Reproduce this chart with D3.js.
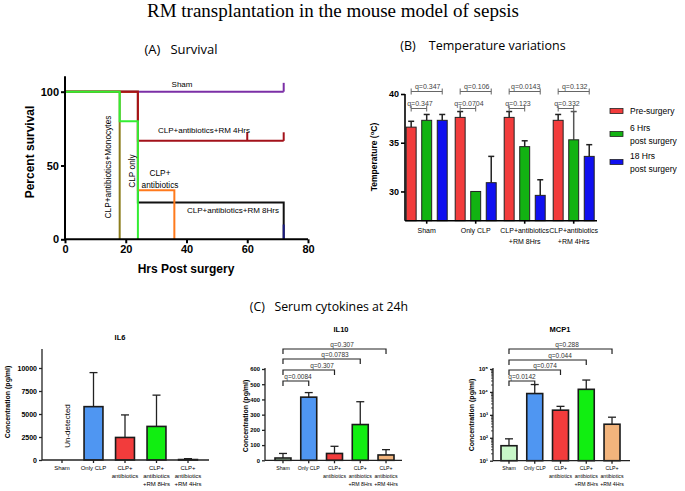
<!DOCTYPE html>
<html>
<head>
<meta charset="utf-8">
<script src="https://cdn.jsdelivr.net/npm/d3@7"></script>
<style>
  body { margin: 0; background: #fff; }
  text { font-family: "Liberation Sans", Arial, sans-serif; }
</style>
</head>
<body>
<svg id="fig" width="685" height="491"></svg>
<script>
// ---- survival (A) ----
const survNames = ["Sham", "CLP+antibiotics+RM 8Hrs", "CLP+antibiotics", "CLP+antibiotics+RM 4Hrs", "CLP+antibiotics+Monocytes", "CLP only"]
const survColors = ["#7b2fa6", "#111111", "#ff7a1c", "#a3121a", "#8c7d1c", "#33ee33"]
const survTimes = [[0, 72], [0, 24, 72, 72], [0, 24, 36, 36], [0, 24, 72], [0, 18, 18], [0, 18, 24, 24]]
const survPct = [[100, 100], [100, 25, 0, 0], [100, 33.3, 0, 0], [100, 66.7, 66.7], [100, 0, 0], [100, 80, 0, 0]]
const censorSham = [72]
const censorRM4 = [60, 72]

// ---- temperature (B) ----
const tempGroups = ["Sham", "Only CLP", "CLP+antibiotics|+RM 8Hrs", "CLP+antibiotics|+RM 4Hrs"]
const tempSeries = ["Pre-surgery", "6 Hrs|post surgery", "18 Hrs|post surgery"]
const tempColors = ["#f23c3c", "#12b312", "#1010f0"]
const tempMean = [[36.6, 37.3, 37.3], [37.6, 30.0, 30.9], [37.6, 34.6, 29.6], [37.3, 35.3, 33.6]]
const tempErr = [[37.2, 37.9, 37.9], [38.2, 30.0, 33.6], [38.2, 35.2, 31.2], [37.9, 38.2, 34.8]]
const tempQ = [["q=0.347", "q=0.347"], ["q=0.106", "q=0.0704"], ["q=0.0143", "q=0.123"], ["q=0.132", "q=0.332"]]

// ---- cytokines (C) ----
const cytoGroups = ["Sham", "Only CLP", "CLP+|antibiotics", "CLP+|antibiotics|+RM 8Hrs", "CLP+|antibiotics|+RM 4Hrs"]
const cytoColors = ["#c8f7c8", "#4f96f2", "#f23c3c", "#11ee11", "#f2b47c"]
const il6Mean = [null, 5800, 2450, 3650, 50]
const il6Err = [null, 9500, 4900, 7050, 150]
const il10Mean = [15, 415, 45, 235, 35]
const il10Err = [45, 445, 92, 385, 70]
const il10Q = ["q=0.0084", "q=0.307", "q=0.0783", "q=0.307"]
const mcp1Mean = [45, 8500, 1600, 13000, 390]
const mcp1Err = [90, 21000, 2350, 33000, 790]
const mcp1Q = ["q=0.0142", "q=0.074", "q=0.044", "q=0.288"]

const svg = d3.select("#fig")

svg.append("text").attr("x", 333).attr("y", 16.5).attr("text-anchor", "middle")
    .style("font-family", "'Liberation Serif', serif").style("font-size", "19px")
    .text("RM transplantation in the mouse model of sepsis")

function panelTitle(x, y, txt, size) {
    svg.append("text").attr("x", x).attr("y", y).attr("text-anchor", "middle")
        .style("font-family", "'Open Sans', sans-serif").style("font-size", (size || 13) + "px")
        .attr("xml:space", "preserve").text(txt)
}
panelTitle(181, 54, "(A)   Survival")
panelTitle(483, 50, "(B)    Temperature variations", 12.5)
panelTitle(329, 311, "(C)   Serum cytokines at 24h", 12.3)

function multiText(g, x, y, txt, size, lh, anchor) {
    let t = g.append("text").attr("x", x).attr("y", y).attr("text-anchor", anchor || "middle")
        .style("font-size", size + "px")
    txt.split("|").forEach(function (s, i) {
        t.append("tspan").attr("x", x).attr("dy", i == 0 ? 0 : lh).text(s)
    })
    return t
}

// ================= A: survival =================
function drawSurvival() {
    let g = svg.append("g")
    let x = d3.scaleLinear().domain([0, 80]).range([65, 308])
    let y = d3.scaleLinear().domain([0, 100]).range([239.3, 91.7])

    let line = d3.line().x(d => x(d[0])).y(d => y(d[1])).curve(d3.curveStepAfter)
    survNames.forEach(function (n, i) {
        let pts = survTimes[i].map((t, j) => [t, survPct[i][j]])
        g.append("path").attr("d", line(pts)).attr("fill", "none")
            .attr("stroke", survColors[i]).attr("stroke-width", 2)
    })
    // censor marks
    censorSham.forEach(t => g.append("line").attr("x1", x(t)).attr("x2", x(t))
        .attr("y1", y(100)).attr("y2", y(106)).attr("stroke", survColors[0]).attr("stroke-width", 2))
    censorRM4.forEach(t => g.append("line").attr("x1", x(t)).attr("x2", x(t))
        .attr("y1", y(66.7)).attr("y2", y(72.5)).attr("stroke", survColors[3]).attr("stroke-width", 2))
    g.append("line").attr("x1", x(72)).attr("x2", x(72)).attr("y1", y(0)).attr("y2", y(10))
        .attr("stroke", "#1a1a80").attr("stroke-width", 2)

    let xa = g.append("g").attr("transform", "translate(0," + y(0) + ")")
        .call(d3.axisBottom(x).tickValues([0, 20, 40, 60, 80]).tickSize(4).tickPadding(2))
    let ya = g.append("g").attr("transform", "translate(" + x(0) + ",0)")
        .call(d3.axisLeft(y).tickValues([0, 50, 100]).tickSize(4).tickPadding(2))
    ya.select(".domain").attr("d", "M0," + y(0) + "V" + y(110.5))
    ;[xa, ya].forEach(a => {
        a.selectAll("path,line").attr("stroke", "#000").attr("stroke-width", 2)
        a.selectAll("text").style("font-size", "11px").style("font-weight", "bold").attr("fill", "#000")
            .style("font-family", "'Liberation Sans', Arial")
    })
    xa.select(".domain").attr("d", "M" + x(0) + ",0H" + x(80))

    g.append("text").attr("x", 186).attr("y", 273).attr("text-anchor", "middle")
        .style("font-size", "12px").style("font-weight", "bold").text("Hrs Post surgery")
    g.append("text").attr("transform", "translate(34,152) rotate(-90)").attr("text-anchor", "middle")
        .style("font-size", "12px").style("font-weight", "bold").text("Percent survival")

    g.append("text").attr("x", 182).attr("y", 86.5).attr("text-anchor", "middle").style("font-size", "8px").text("Sham")
    g.append("text").attr("x", 204).attr("y", 133).attr("text-anchor", "middle").style("font-size", "8px").text("CLP+antibiotics+RM 4Hrs")
    g.append("text").attr("x", 233).attr("y", 213).attr("text-anchor", "middle").style("font-size", "8px").text("CLP+antibiotics+RM 8Hrs")
    multiText(g, 160, 176, "CLP+|antibiotics", 8.3, 12)
    g.append("text").attr("transform", "translate(135,171) rotate(-90)").attr("text-anchor", "middle")
        .style("font-size", "8.3px").text("CLP only")
    g.append("text").attr("transform", "translate(111,167) rotate(-90)").attr("text-anchor", "middle")
        .style("font-size", "8.3px").text("CLP+antibiotics+Monocytes")
}
drawSurvival()

// ================= B: temperature =================
function drawTemperature() {
    let g = svg.append("g")
    let x0 = d3.scaleBand().domain(tempGroups).range([402.2, 598.2])
    let x1 = d3.scaleBand().domain(tempSeries).range([-20.5, 20.5]).paddingInner(0.36).paddingOuter(0.0)
    let y = d3.scaleLinear().domain([27, 40]).range([220.7, 94])
    let bw = x1.bandwidth()

    tempGroups.forEach(function (gr, i) {
        let cx = x0(gr) + x0.bandwidth() / 2
        tempSeries.forEach(function (s, j) {
            let bx = cx + x1(s)
            let bc = bx + bw / 2
            let ec = (i == 3 && j == 1) ? "#555" : "#222"
            if (tempErr[i][j] > tempMean[i][j]) {
                g.append("line").attr("x1", bc).attr("x2", bc).attr("y1", y(tempMean[i][j])).attr("y2", y(tempErr[i][j]))
                    .attr("stroke", ec).attr("stroke-width", 1.5)
                g.append("line").attr("x1", bc - 3).attr("x2", bc + 3).attr("y1", y(tempErr[i][j])).attr("y2", y(tempErr[i][j]))
                    .attr("stroke", ec).attr("stroke-width", 1.5)
            }
            g.append("rect").attr("x", bx).attr("y", y(tempMean[i][j])).attr("width", bw)
                .attr("height", y(27) - y(tempMean[i][j])).attr("fill", tempColors[j])
                .attr("stroke", "#222").attr("stroke-width", 1)
        })
        // significance brackets
        let xr = cx + x1(tempSeries[0]) + bw / 2
        let xg = cx + x1(tempSeries[1]) + bw / 2
        let xb = cx + x1(tempSeries[2]) + bw / 2
        let br = [[xr, xb, 91.5, tempQ[i][0]], [xr, xg, 108.5, tempQ[i][1]]]
        br.forEach(function (b) {
            g.append("path").attr("d", "M" + b[0] + "," + (b[2] - 3) + "V" + (b[2] + 3) + "M" + b[0] + "," + b[2] + "H" + b[1]
                + "M" + b[1] + "," + (b[2] - 3) + "V" + (b[2] + 3))
                .attr("fill", "none").attr("stroke", "#666").attr("stroke-width", 1)
            g.append("text").attr("x", (b[0] + b[1]) / 2 + 1).attr("y", b[2] - 3).attr("text-anchor", "middle")
                .style("font-size", "7px").attr("fill", "#444").text(b[3])
        })
    })

    let xa = g.append("g").attr("transform", "translate(0," + y(27) + ")")
        .call(d3.axisBottom(x0).tickSize(3).tickFormat(""))
    xa.select(".domain").attr("d", "M405,0H597")
    xa.selectAll("text").remove()
    tempGroups.forEach(gr => multiText(g, x0(gr) + x0.bandwidth() / 2, 233, gr, 7, 10.5))

    let ya = g.append("g").attr("transform", "translate(405,0)")
        .call(d3.axisLeft(y).tickValues([30, 35, 40]).tickSize(4).tickPadding(2))
    ya.select(".domain").attr("d", "M0," + y(27) + "V" + y(40))
    ;[xa, ya].forEach(a => {
        a.selectAll("path,line").attr("stroke", "#000").attr("stroke-width", 1.6)
        a.selectAll("text").style("font-size", "9px").style("font-weight", "bold").attr("fill", "#000")
            .style("font-family", "'Liberation Sans', Arial")
    })
    let yl = g.append("text").attr("transform", "translate(377,157) rotate(-90)").attr("text-anchor", "middle")
        .style("font-size", "8.5px").style("font-weight", "bold")
    yl.append("tspan").text("Temperature (")
    yl.append("tspan").attr("dy", -3).style("font-size", "6px").text("o")
    yl.append("tspan").attr("dy", 3).text("C)")

    // legend
    let lyy = [111, 134, 162]
    tempSeries.forEach(function (s, j) {
        g.append("rect").attr("x", 610).attr("y", lyy[j] - 2.5).attr("width", 13).attr("height", 5)
            .attr("fill", tempColors[j]).attr("stroke", "#222").attr("stroke-width", 0.8)
        let lines = s.split("|")
        multiText(g, 630, lyy[j] + 3 - (lines.length - 1) * 6.5, s, 8.5, 13, "start")
    })
}
drawTemperature()

// ================= C: cytokines =================
function drawCyto(opts) {
    let g = svg.append("g")
    let x = d3.scaleBand().domain(cytoGroups).range([opts.x0, opts.x1]).paddingInner(opts.pad).paddingOuter(opts.pad / 2)
    let y = opts.y
    let base = y.range()[0]
    let bw = x.bandwidth()

    cytoGroups.forEach(function (gr, i) {
        let m = opts.mean[i]
        if (m == null) return
        let bc = x(gr) + bw / 2
        let e = opts.err[i]
        g.append("line").attr("x1", bc).attr("x2", bc).attr("y1", y(m)).attr("y2", y(e)).attr("stroke", "#222").attr("stroke-width", 1.3)
        g.append("line").attr("x1", bc - 4).attr("x2", bc + 4).attr("y1", y(e)).attr("y2", y(e)).attr("stroke", "#222").attr("stroke-width", 1.3)
        g.append("rect").attr("x", x(gr)).attr("y", y(m)).attr("width", bw).attr("height", Math.max(base - y(m), 0.5))
            .attr("fill", cytoColors[i]).attr("stroke", "#1a1a1a").attr("stroke-width", 1.6)
    })

    // brackets from Sham to each group
    if (opts.q) {
        let xs = x(cytoGroups[0]) + bw / 2
        opts.q.forEach(function (q, k) {
            let xe = x(cytoGroups[k + 1]) + bw / 2
            let yy = opts.qy[k]
            g.append("path").attr("d", "M" + xs + "," + (yy + 5) + "V" + yy + "H" + xe + "V" + (yy + 5))
                .attr("fill", "none").attr("stroke", "#222").attr("stroke-width", 1.2)
            g.append("text").attr("x", opts.qx[k]).attr("y", yy - 2.5).attr("text-anchor", "middle")
                .style("font-size", "6.5px").attr("fill", "#333").text(q)
        })
    }

    let xa = g.append("g").attr("transform", "translate(0," + base + ")")
        .call(d3.axisBottom(x).tickSize(3).tickFormat(""))
    xa.select(".domain").attr("d", "M" + opts.ax0 + ",0H" + opts.ax1)
    cytoGroups.forEach(gr => multiText(g, x(gr) + bw / 2, base + 9.5, gr, opts.labFont, 8))

    let ya = g.append("g").attr("transform", "translate(" + opts.ax0 + ",0)").call(opts.yaxis)
    ya.select(".domain").attr("d", "M0," + base + "V" + opts.ytop)
    ;[xa, ya].forEach(a => {
        a.selectAll("path,line").attr("stroke", "#222").attr("stroke-width", 1.3)
        a.selectAll("text").style("font-size", opts.tickFont + "px").style("font-weight", "bold").attr("fill", "#000")
            .style("font-family", "'Liberation Sans', Arial")
    })
    if (opts.minor) opts.minor(g)

    g.append("text").attr("x", opts.tx).attr("y", opts.ty).attr("text-anchor", "middle")
        .style("font-size", "7.5px").style("font-weight", "bold").text(opts.title)
    g.append("text").attr("transform", "translate(" + opts.lx + "," + opts.ly + ") rotate(-90)").attr("text-anchor", "middle")
        .style("font-size", "7px").style("font-weight", "bold").text("Concentration (pg/ml)")
    return g
}

// IL6
let il6y = d3.scaleLinear().domain([0, 12000]).range([460, 349.6])
let g6 = drawCyto({
    x0: 46.25, x1: 203.75, pad: 0.4, ax0: 42, ax1: 209, y: il6y, ytop: 349,
    mean: il6Mean, err: il6Err, tickFont: 7, labFont: 6,
    yaxis: d3.axisLeft(il6y).tickValues([0, 2500, 5000, 7500, 10000]).tickSize(3).tickPadding(2).tickFormat(d3.format("d")),
    title: "IL6", tx: 120, ty: 340, lx: 10, ly: 402
})
g6.append("text").attr("transform", "translate(70,426) rotate(-90)").attr("text-anchor", "middle")
    .style("font-size", "8px").text("Un-detected")

// IL10
let il10y = d3.scaleLinear().domain([0, 600]).range([460.3, 369])
drawCyto({
    x0: 270.1, x1: 398.9, pad: 0.38, ax0: 265, ax1: 402, y: il10y, ytop: 368,
    mean: il10Mean, err: il10Err, tickFont: 5.8, labFont: 5.2,
    yaxis: d3.axisLeft(il10y).tickValues([0, 100, 200, 300, 400, 500, 600]).tickSize(3).tickPadding(2),
    q: il10Q, qy: [381, 370, 359, 349], qx: [298, 322, 335, 342],
    title: "IL10", tx: 341, ty: 332, lx: 248, ly: 416
})

// MCP1
let mcpy = d3.scaleLog().domain([10, 1e5]).range([460.7, 369])
const sup = { 1: "\u00b9", 2: "\u00b2", 3: "\u00b3", 4: "\u2074", 5: "\u2075" }
drawCyto({
    x0: 496.1, x1: 624.9, pad: 0.38, ax0: 493, ax1: 630, y: mcpy, ytop: 368,
    mean: mcp1Mean, err: mcp1Err, tickFont: 5.8, labFont: 5.2,
    yaxis: d3.axisLeft(mcpy).tickValues([10, 100, 1000, 1e4, 1e5]).tickSize(3).tickPadding(2)
        .tickFormat(d => "10" + sup[Math.round(Math.log10(d))]),
    q: mcp1Q, qy: [381, 370, 360, 349], qx: [522, 545, 560, 567],
    minor: function (g) {
        let vals = []
        for (let p = 1; p < 5; p++) for (let k = 2; k < 10; k++) vals.push(k * Math.pow(10, p))
        g.selectAll(".minor").data(vals).enter().append("line").attr("class", "minor")
            .attr("x1", 493).attr("x2", 491).attr("y1", d => mcpy(d)).attr("y2", d => mcpy(d))
            .attr("stroke", "#222").attr("stroke-width", 0.8)
    },
    title: "MCP1", tx: 560, ty: 332, lx: 474, ly: 415
})
</script>
</body>
</html>
